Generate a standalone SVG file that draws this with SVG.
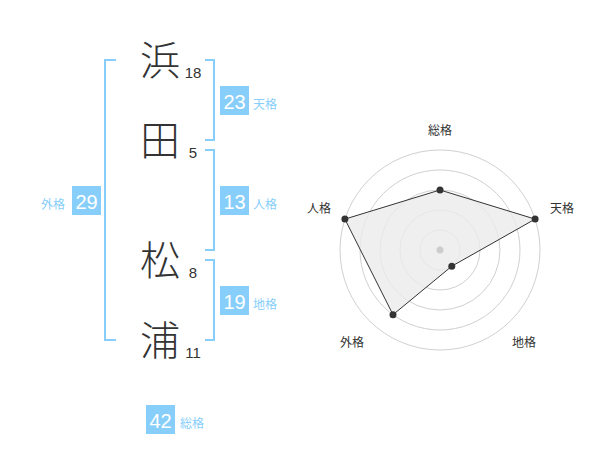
<svg xmlns="http://www.w3.org/2000/svg" width="600" height="470" viewBox="0 0 600 470">
<style>
.kanji{font-family:"Noto Sans CJK JP","Noto Sans CJK SC",sans-serif;font-size:40px;font-weight:300;fill:#333;text-anchor:middle}
.stroke{font-family:"Liberation Sans",Arial,sans-serif;font-size:15px;fill:#333;text-anchor:middle}
.br{fill:none;stroke:#87cefa;stroke-width:2}
.box{fill:#87cefa}
.bn{font-family:"Liberation Sans",Arial,sans-serif;font-size:20px;fill:#fff;text-anchor:middle}
.bl{font-family:"Noto Sans CJK JP","Noto Sans CJK SC",sans-serif;font-size:12px;fill:#87cefa}
.ring{fill:none;stroke:#d0d0d0;stroke-width:1}
.rl{font-family:"Noto Sans CJK JP","Noto Sans CJK SC",sans-serif;font-size:12px;fill:#333;text-anchor:middle}
.pt{fill:#333}
</style>
<rect width="600" height="470" fill="#fff"/>
<g id="connectors">
<path class="br" d="M116,60H105V340H116"/>
<path class="br" d="M205,60H214V140H205"/>
<path class="br" d="M205,150H214V250H205"/>
<path class="br" d="M205,260H214V340H205"/>
</g>
<g id="char-hama"><text class="kanji" x="160" y="75">浜</text><text class="stroke" x="193" y="78">18</text></g>
<g id="char-ta"><text class="kanji" x="160" y="155">田</text><text class="stroke" x="193" y="158">5</text></g>
<g id="char-matsu"><text class="kanji" x="160" y="275">松</text><text class="stroke" x="193" y="278">8</text></g>
<g id="char-ura"><text class="kanji" x="160" y="355">浦</text><text class="stroke" x="193" y="358">11</text></g>
<g id="tenkaku"><rect class="box" x="220" y="86" width="29" height="29"/><text class="bn" x="234.5" y="109">23</text><text class="bl" x="253" y="109">天格</text></g>
<g id="jinkaku"><rect class="box" x="220" y="186" width="29" height="29"/><text class="bn" x="234.5" y="209">13</text><text class="bl" x="253" y="209">人格</text></g>
<g id="chikaku"><rect class="box" x="220" y="286" width="29" height="29"/><text class="bn" x="234.5" y="309">19</text><text class="bl" x="253" y="309">地格</text></g>
<g id="gaikaku"><rect class="box" x="72" y="186" width="29" height="29"/><text class="bn" x="86.5" y="209">29</text><text class="bl" x="41" y="209">外格</text></g>
<g id="soukaku"><rect class="box" x="146" y="405" width="29" height="29"/><text class="bn" x="160.5" y="428">42</text><text class="bl" x="180" y="428">総格</text></g>
<g id="radar">
<circle class="ring" cx="440" cy="250" r="20"/>
<circle class="ring" cx="440" cy="250" r="40"/>
<circle class="ring" cx="440" cy="250" r="60"/>
<circle class="ring" cx="440" cy="250" r="80"/>
<circle class="ring" cx="440" cy="250" r="100"/>
<polygon points="440,190 535.1,219.1 451.8,266.2 393,314.7 344.9,219.1" fill="#ebebeb" fill-opacity="0.8" stroke="#333" stroke-width="1"/>
<circle cx="440" cy="250" r="3.5" fill="#ccc"/>
<circle class="pt" cx="440" cy="190" r="3.5"/>
<circle class="pt" cx="535.1" cy="219.1" r="3.5"/>
<circle class="pt" cx="451.8" cy="266.2" r="3.5"/>
<circle class="pt" cx="393" cy="314.7" r="3.5"/>
<circle class="pt" cx="344.9" cy="219.1" r="3.5"/>
<text class="rl" x="440" y="135">総格</text>
<text class="rl" x="562" y="213">天格</text>
<text class="rl" x="319" y="213">人格</text>
<text class="rl" x="352" y="347">外格</text>
<text class="rl" x="524" y="347">地格</text>
</g>
</svg>
